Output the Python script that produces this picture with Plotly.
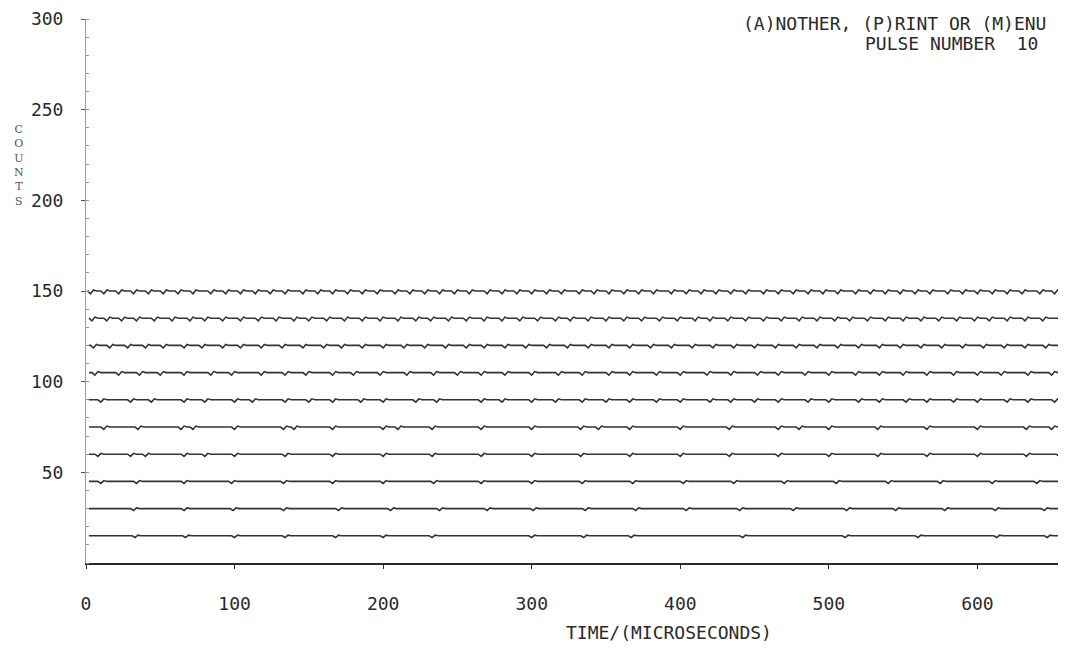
import plotly.graph_objects as go

# ---- data ----
pulse_baselines = [15, 30, 45, 60, 75, 90, 105, 120, 135, 150]   # counts
dip_depth = [0.9, 1.0, 1.1, 1.2, 1.3, 1.3, 1.4, 1.4, 1.5, 1.5]   # counts
dip_times = [
    [33, 67, 100, 134, 168, 200, 233, 300, 335, 367, 442, 511, 560, 613, 647],
    [32, 66, 99, 133, 170, 205, 238, 270, 301, 336, 370, 404, 440, 476, 512, 545, 578, 612, 645],
    [10, 34, 66, 98, 133, 166, 200, 234, 266, 300, 334, 368, 402, 436, 470, 505, 540, 575, 610, 640, 658],
    [8, 30, 40, 66, 80, 100, 134, 166, 200, 233, 266, 300, 333, 366, 400, 433, 466, 500, 533, 566, 600, 633, 655],
    [12, 35, 64, 72, 100, 133, 140, 166, 200, 210, 233, 266, 300, 333, 345, 366, 400, 433, 466, 480, 500, 533, 566, 600, 633, 650],
    [10, 30, 44, 66, 80, 100, 112, 134, 150, 166, 185, 200, 222, 236, 266, 280, 300, 316, 334, 350, 366, 384,
     400, 420, 434, 450, 466, 486, 500, 520, 534, 552, 566, 584, 600, 620, 634, 652],
    [6, 22, 36, 50, 66, 84, 98, 118, 134, 148, 166, 180, 198, 216, 234, 250, 266, 282, 300, 318, 334, 352, 366,
     384, 400, 418, 434, 452, 466, 484, 500, 518, 534, 550, 566, 584, 600, 616, 634, 650],
    [5, 16, 28, 40, 52, 66, 78, 92, 104, 118, 132, 146, 160, 172, 186, 200, 214, 228, 242, 256, 268, 282, 296,
     310, 324, 338, 352, 366, 380, 394, 408, 422, 436, 450, 464, 478, 492, 506, 520, 534, 548, 562, 576, 590,
     604, 618, 632, 646, 660],
    [4, 14, 24, 34, 46, 58, 70, 80, 92, 104, 116, 128, 140, 150, 162, 174, 186, 198, 210, 222, 232, 244, 256,
     268, 280, 292, 304, 316, 326, 338, 350, 362, 374, 386, 398, 410, 420, 432, 444, 456, 468, 480, 492, 504,
     514, 526, 538, 550, 562, 574, 586, 598, 608, 620, 632, 644, 656],
    [3, 12, 22, 32, 42, 52, 62, 72, 84, 94, 104, 114, 124, 134, 146, 156, 166, 176, 186, 196, 208, 218, 228,
     238, 248, 258, 270, 280, 290, 300, 310, 320, 332, 342, 352, 362, 372, 382, 394, 404, 414, 424, 434, 444,
     456, 466, 476, 486, 496, 506, 518, 528, 538, 548, 558, 568, 580, 590, 600, 610, 620, 630, 642, 652, 662],
]
x_ticks = [0, 100, 200, 300, 400, 500, 600]
y_ticks = [50, 100, 150, 200, 250, 300]
t_end = 665

FONT = "DejaVu Sans Mono"
INK = "#2a2a2a"

fig = go.Figure()
for base, d, dips in zip(pulse_baselines, dip_depth, dip_times):
    xs, ys = [2], [base]
    for t in dips:
        xs += [t - 2, t, t + 2, t + 4]
        ys += [base, base - d, base + 0.4 * d, base]
    xs.append(t_end + 5)
    ys.append(base)
    fig.add_trace(go.Scatter(x=xs, y=ys, mode="lines",
                             line=dict(color="#333333", width=1.6),
                             showlegend=False, hoverinfo="skip"))

fig.update_layout(
    width=1066, height=637,
    margin=dict(l=78, r=0, t=6, b=82),
    paper_bgcolor="white", plot_bgcolor="white",
    font=dict(family=FONT, size=18, color=INK),
    xaxis=dict(range=[0, t_end], tickvals=x_ticks, ticktext=[str(v) for v in x_ticks],
               showgrid=False, zeroline=False, showline=True, linecolor=INK, linewidth=1.5,
               ticks="outside", ticklen=4, tickcolor=INK, ticklabelstandoff=20,
               ticklabeloverflow="allow",
               tickfont=dict(family=FONT, size=18, color=INK)),
    yaxis=dict(range=[0, 300], tickvals=y_ticks, ticktext=[str(v) for v in y_ticks],
               showgrid=False, zeroline=False, showline=True, linecolor="#9a9a9a", linewidth=1,
               ticks="outside", ticklen=4, tickcolor="#555555", ticklabelstandoff=14,
               ticklabeloverflow="allow",
               minor=dict(dtick=10, ticks="inside", ticklen=3, tickcolor="#999999"),
               tickfont=dict(family=FONT, size=18, color=INK)),
)

fig.add_annotation(text="(A)NOTHER, (P)RINT OR (M)ENU", xref="paper", yref="paper",
                   x=0.974, y=0.992, xanchor="right", yanchor="middle", showarrow=False,
                   font=dict(family=FONT, size=18, color=INK))
fig.add_annotation(text="PULSE NUMBER  10", xref="paper", yref="paper",
                   x=0.966, y=0.955, xanchor="right", yanchor="middle", showarrow=False,
                   font=dict(family=FONT, size=18, color=INK))
fig.add_annotation(text="TIME/(MICROSECONDS)", xref="paper", yref="paper",
                   x=0.59, y=-0.128, xanchor="center", yanchor="middle", showarrow=False,
                   font=dict(family=FONT, size=18, color=INK))
fig.add_annotation(text="C<br>O<br>U<br>N<br>T<br>S", xref="paper", yref="paper",
                   x=-0.068, y=0.73, xanchor="center", yanchor="middle", showarrow=False,
                   font=dict(family="DejaVu Serif", size=11, color="#555555"))

fig.write_html("out.html")
